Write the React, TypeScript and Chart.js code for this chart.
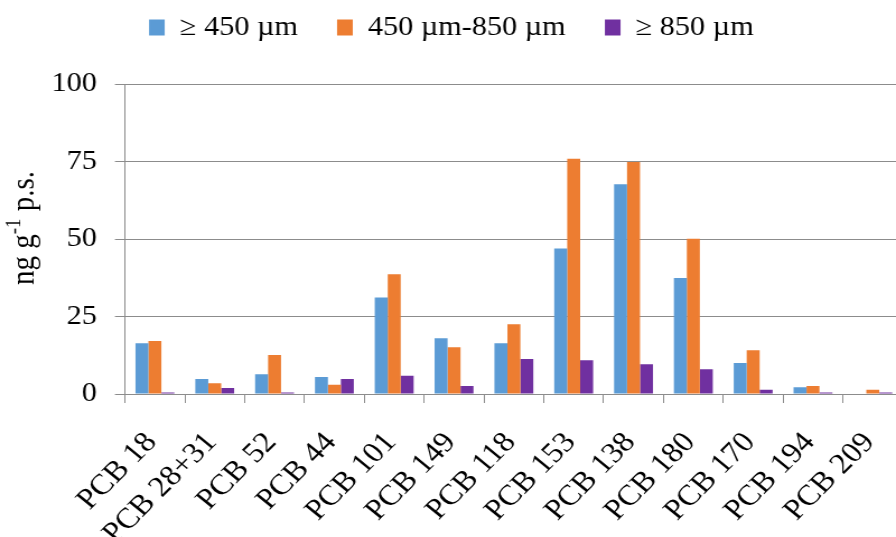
import React, { useEffect, useRef } from "react";
import { Chart, registerables } from "chart.js";

Chart.register(...registerables);

const categories = [
  "PCB 18", "PCB 28+31", "PCB 52", "PCB 44", "PCB 101", "PCB 149", "PCB 118",
  "PCB 153", "PCB 138", "PCB 180", "PCB 170", "PCB 194", "PCB 209",
];
const seriesNames = ["\u2265 450 \u00b5m", "450 \u00b5m-850 \u00b5m", "\u2265 850 \u00b5m"];
const fine = [16.4, 4.8, 6.4, 5.5, 31.1, 18.0, 16.4, 46.9, 67.7, 37.4, 10.0, 2.2, 0];
const medium = [17.1, 3.5, 12.6, 3.0, 38.6, 15.1, 22.5, 75.9, 74.8, 50.1, 14.1, 2.6, 1.4];
const coarse = [0.5, 1.9, 0.5, 4.8, 5.9, 2.6, 11.3, 10.9, 9.6, 8.0, 1.4, 0.5, 0.5];
const colors = ["#5B9BD5", "#ED7D31", "#7030A0"];
const yTicks = [0, 25, 50, 75, 100];

const SERIF = "'Liberation Serif', 'Times New Roman', serif";
const GRID = "#8c8c8c";
const SX = 1.12; // horizontal stretch of the original picture
const CANVAS_W = 806;
const CANVAS_H = 537;

const yTitlePlugin = {
  id: "yTitle",
  afterDraw(chart: any) {
    const ctx = chart.ctx;
    const area = chart.chartArea;
    const cy = (area.top + area.bottom) / 2 - 11;
    const bx = 29.5;
    const big = "29px " + SERIF;
    const small = "19px " + SERIF;
    ctx.save();
    ctx.font = big;
    const w1 = ctx.measureText("ng g").width;
    const w3 = ctx.measureText(" p.s.").width;
    ctx.font = small;
    const w2 = ctx.measureText("-1").width;
    const total = w1 + w2 + w3;
    ctx.translate(bx, cy);
    ctx.rotate(-Math.PI / 2);
    ctx.fillStyle = "#000";
    ctx.textBaseline = "alphabetic";
    ctx.textAlign = "left";
    let x = -total / 2;
    ctx.font = big;
    ctx.fillText("ng g", x, 0);
    x += w1;
    ctx.font = small;
    ctx.fillText("-1", x, -12);
    x += w2;
    ctx.font = big;
    ctx.fillText(" p.s.", x, 0);
    ctx.restore();
  },
};

const legendSpacePlugin = {
  id: "legendSpace",
  afterInit(chart: any) {
    const lg = chart.legend;
    if (!lg || lg.__patched) return;
    const orig = lg.fit;
    lg.fit = function () {
      orig.call(this);
      this.height += 33;
    };
    lg.__patched = true;
  },
};

export default function App() {
  const ref = useRef<HTMLCanvasElement>(null);
  useEffect(() => {
    if (!ref.current) return;
    const chart = new Chart(ref.current, {
      type: "bar",
      data: {
        labels: categories,
        datasets: [fine, medium, coarse].map((d, i) => ({
          label: seriesNames[i],
          data: d,
          backgroundColor: colors[i],
          borderWidth: 0,
          categoryPercentage: 0.65,
          barPercentage: 1.0,
        })),
      },
      options: {
        animation: false,
        responsive: false,
        maintainAspectRatio: false,
        layout: { padding: { top: -21, left: 0, right: 0, bottom: 0 } },
        plugins: {
          legend: {
            position: "top",
            labels: {
              color: "#000",
              font: { family: SERIF, size: 27 },
              boxWidth: 14,
              boxHeight: 16,
              padding: 35,
            },
          },
          tooltip: { enabled: false },
        },
        scales: {
          x: {
            grid: {
              offset: true,
              drawOnChartArea: false,
              drawTicks: true,
              tickLength: 9,
              color: GRID,
            },
            border: { color: GRID },
            ticks: {
              color: "#000",
              font: { family: SERIF, size: 29 },
              minRotation: 48,
              maxRotation: 48,
              autoSkip: false,
              padding: 23,
              labelOffset: -3,
            },
            afterFit: (s: any) => {
              s.height = 143;
              s.paddingLeft = 0;
              s.paddingRight = 0;
            },
          },
          y: {
            min: 0,
            max: 100,
            afterBuildTicks: (s: any) => {
              s.ticks = yTicks.map((v) => ({ value: v }));
            },
            grid: { color: GRID, tickLength: 9 },
            border: { color: GRID },
            ticks: {
              color: "#000",
              font: { family: SERIF, size: 27 },
              padding: 16,
            },
            afterFit: (s: any) => {
              s.width = 111.6;
            },
          },
        },
      },
      plugins: [legendSpacePlugin, yTitlePlugin],
    });
    return () => chart.destroy();
  }, []);
  return (
    <div
      style={{
        position: "absolute",
        left: 0,
        top: 0,
        width: 896,
        height: 537,
        overflow: "hidden",
        background: "#fff",
      }}
    >
      <canvas
        ref={ref}
        width={CANVAS_W}
        height={CANVAS_H}
        style={{
          display: "block",
          transform: `scaleX(${SX})`,
          transformOrigin: "0 0",
        }}
      />
    </div>
  );
}
